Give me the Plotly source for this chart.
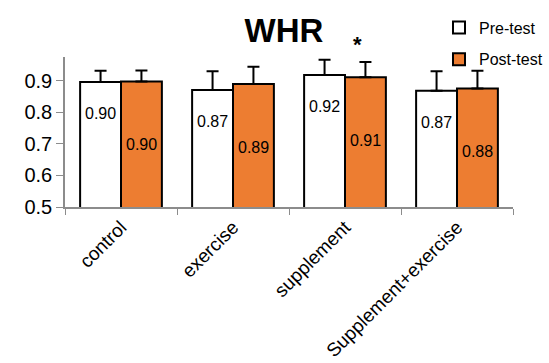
import plotly.graph_objects as go

categories = ["control", "exercise", "supplement", "Supplement+exercise"]
pre_values = [0.897, 0.871, 0.919, 0.869]
post_values = [0.898, 0.890, 0.912, 0.876]
pre_err = [0.035, 0.060, 0.048, 0.062]
post_err = [0.035, 0.055, 0.048, 0.056]
series_names = ["Pre-test", "Post-test"]
y_ticks = [0.5, 0.6, 0.7, 0.8, 0.9]
title_text = "WHR"
star_category = "supplement"

ORANGE = "#ED7D31"
GRAY = "#8C8C8C"
FONT = "Liberation Sans"

fig = go.Figure()
fig.add_trace(go.Bar(
    x=categories, y=pre_values, name=series_names[0], legendgroup="a",
    marker=dict(color="white", line=dict(color="black", width=2)),
    error_y=dict(type="data", array=pre_err, arrayminus=[0]*len(pre_err), symmetric=False,
                 color="black", thickness=2, width=6),
))
fig.add_trace(go.Bar(
    x=categories, y=post_values, name=series_names[1], legendgroup="b",
    marker=dict(color=ORANGE, line=dict(color="black", width=2)),
    error_y=dict(type="data", array=post_err, arrayminus=[0]*len(post_err), symmetric=False,
                 color="black", thickness=2, width=6),
))

annotations = []
for c, v in zip(categories, pre_values):
    annotations.append(dict(x=c, y=v - 0.1, xref="x", yref="y", text=f"{v:.2f}",
                            showarrow=False, xshift=-20.5,
                            font=dict(family=FONT, size=16, color="black")))
for c, v in zip(categories, post_values):
    annotations.append(dict(x=c, y=v - 0.2, xref="x", yref="y", text=f"{v:.2f}",
                            showarrow=False, xshift=20.5,
                            font=dict(family=FONT, size=16, color="black")))
annotations.append(dict(x=star_category, y=1.18, xref="x", yref="paper", text="<b>*</b>",
                        showarrow=False, xshift=12,
                        font=dict(family=FONT, size=22, color="black")))
fig.update_layout(annotations=annotations)

fig.update_layout(
    width=549, height=363,
    margin=dict(l=65, r=36, t=57, b=156, autoexpand=False),
    paper_bgcolor="white", plot_bgcolor="white",
    barmode="group", bargap=0.27, bargroupgap=0,
    title=dict(text=f"<b>{title_text}</b>", x=284 / 549, xanchor="center",
               y=1 - 30 / 363, yanchor="middle",
               font=dict(family=FONT, size=33, color="black")),
    legend=dict(x=(439 - 65) / 448, y=1.31, xanchor="left", yanchor="top",
                font=dict(family=FONT, size=16, color="black"),
                traceorder="grouped", tracegroupgap=8,
                itemwidth=30, bgcolor="rgba(0,0,0,0)"),
    xaxis=dict(showline=True, linecolor=GRAY, linewidth=1.5, tickson="boundaries",
               ticks="outside", ticklen=6, tickcolor=GRAY, tickangle=-45,
               tickfont=dict(family=FONT, size=19, color="black"), showgrid=False),
    yaxis=dict(range=[0.5, 0.976], tickvals=y_ticks, ticktext=[f"{t:.1f}" for t in y_ticks],
               showline=True, linecolor=GRAY, linewidth=1.5,
               ticks="outside", ticklen=7, tickcolor=GRAY, showgrid=False, zeroline=False,
               tickfont=dict(family=FONT, size=20, color="black")),
)

fig.write_html("out.html", config={"displayModeBar": False},
               post_script="document.body.style.margin='0px';")
